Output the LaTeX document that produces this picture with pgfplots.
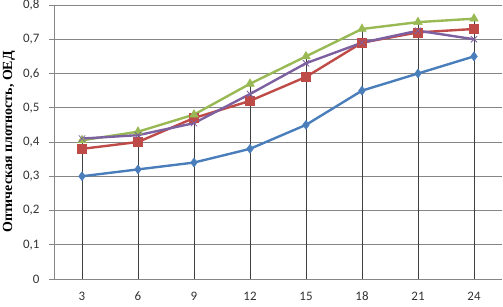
\documentclass[border=0pt]{standalone}
\usepackage{pgfplots}
\pgfplotsset{compat=1.18}
\usetikzlibrary{calc}
\usepackage{fontspec}
\setmainfont{Carlito}
\newfontfamily\labelfont{Liberation Serif}
\definecolor{sblue}{RGB}{74,126,187}
\definecolor{sred}{RGB}{190,75,72}
\definecolor{sgreen}{RGB}{152,185,84}
\definecolor{spurple}{RGB}{125,96,160}
\definecolor{gridc}{RGB}{134,134,134}
\pgfplotstableread{
x y
3 0.30
6 0.32
9 0.34
12 0.38
15 0.45
18 0.55
21 0.60
24 0.65
}\blue
\pgfplotstableread{
x y
3 0.38
6 0.40
9 0.47
12 0.52
15 0.59
18 0.69
21 0.72
24 0.73
}\red
\pgfplotstableread{
x y
3 0.405
6 0.43
9 0.48
12 0.57
15 0.65
18 0.73
21 0.75
24 0.76
}\green
\pgfplotstableread{
x y
3 0.41
6 0.42
9 0.455
12 0.54
15 0.63
18 0.69
21 0.725
24 0.70
}\purple
\begin{document}
\begin{tikzpicture}
\begin{axis}[
  scale only axis,
  width=448bp, height=274bp,
  xmin=1.5, xmax=25.5, ymin=0, ymax=0.8,
  xtick={3,6,...,24},
  ytick={0,0.1,...,0.8},
  axis x line*=bottom, axis y line*=left,
  axis line style={gridc, line width=0.75pt},
  x axis line style={-}, y axis line style={-},
  ymajorgrids, major grid style={gridc, line width=0.75pt},
  ytick align=outside, xtick style={draw=none},
  ytick style={gridc, line width=0.75pt},
  major tick length=5bp,
  /pgf/number format/assume math mode=true,
  /pgf/number format/.cd, fixed, precision=1, use comma, /pgfplots/.cd,
  ticklabel style={font=\fontsize{13}{15}\selectfont, text=black!80},
  yticklabel style={xshift=-6bp},
  xticklabel style={anchor=north, text height=9bp, text depth=0bp, yshift=-9bp},
  ylabel={\labelfont\fontsize{14}{16}\selectfont\bfseries Оптическая плотность, ОЕД},
  every axis y label/.style={at={(rel axis cs:0,0.5)}, rotate=90, anchor=center, yshift=45bp},
  clip=false,
]
\coordinate (ll) at (rel axis cs:0,0);
\coordinate (ur) at (rel axis cs:1,1);
\addplot[ycomb, black!75, line width=0.8pt, mark=none] table {\green};
\addplot[sblue, line width=2.4pt, mark=diamond*, mark size=4.5pt, mark options={line width=0.5pt}] table {\blue};
\addplot[sred, line width=2.4pt, mark=square*, mark size=4.5pt, mark options={line width=0.5pt}] table {\red};
\addplot[sgreen, line width=2.4pt, mark=triangle*, mark size=5pt, mark options={line width=0.5pt}] table {\green};
\addplot[spurple, line width=2.4pt, mark=x, mark size=4.5pt, mark options={line width=0.8pt}] table {\purple};
\end{axis}
\pgfresetboundingbox
\path ($(ll)+(-54bp,-28bp)$) rectangle ($(ur)+(1bp,5bp)$);
\end{tikzpicture}
\end{document}
